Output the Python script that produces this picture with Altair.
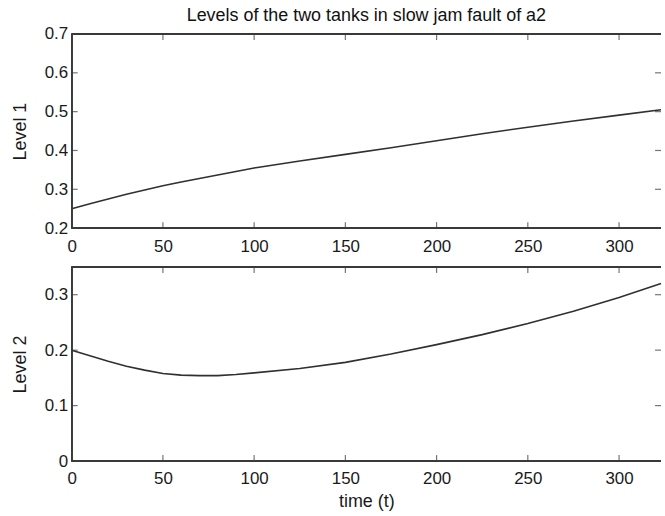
import altair as alt
import pandas as pd

t_vals = [0, 10, 20, 30, 40, 50, 60, 70, 80, 90, 100, 125, 150, 175, 200, 225, 250, 275, 300, 323]
level1 = [0.250, 0.263, 0.275, 0.287, 0.298, 0.309, 0.319, 0.328, 0.337, 0.346, 0.355,
          0.373, 0.390, 0.407, 0.425, 0.443, 0.460, 0.476, 0.491, 0.505]
level2 = [0.200, 0.190, 0.180, 0.171, 0.164, 0.158, 0.155, 0.154, 0.154, 0.156, 0.159,
          0.167, 0.178, 0.193, 0.210, 0.228, 0.248, 0.270, 0.295, 0.320]
x_ticks = [0, 50, 100, 150, 200, 250, 300]
y1_ticks = [0.2, 0.3, 0.4, 0.5, 0.6, 0.7]
y2_ticks = [0, 0.1, 0.2, 0.3]

W, H = 592, 195
FRAME = "#3a3a3a"
LINE = "#303030"
FONT = "Liberation Sans"

xscale = alt.Scale(domain=[0, 323], nice=False, zero=False)


def panel(values, ydomain, yticks, ytitle, xtitle=None, title=None):
    df = pd.DataFrame({"t": t_vals, "v": values})
    yscale = alt.Scale(domain=ydomain, nice=False, zero=False)
    xaxis = alt.Axis(values=x_ticks, labelPadding=10, title=xtitle, labelFlush=False,
                     labelOverlap=False, labelFontSize=17,
                     titlePadding=6, titleFontSize=18, titleFontWeight="normal")
    yaxis = alt.Axis(values=yticks, labelPadding=4, title=ytitle, titlePadding=12,
                     labelFlush=False, labelOverlap=False, labelFontSize=17,
                     minExtent=30, maxExtent=30, labelExpr="format(datum.value, '.1~f')",
                     titleFontSize=18, titleFontWeight="normal")
    X = alt.X("t:Q", scale=xscale, axis=xaxis)
    Y = alt.Y("v:Q", scale=yscale, axis=yaxis)
    line = alt.Chart(df).mark_line(color=LINE, strokeWidth=1.6).encode(x=X, y=Y)
    xt = pd.DataFrame({"t": x_ticks})
    yt = pd.DataFrame({"v": yticks})
    tb = alt.Chart(xt).mark_tick(size=6, thickness=1.2, color=FRAME).encode(
        x=X, y=alt.value(H - 3))
    tt = alt.Chart(xt).mark_tick(size=6, thickness=1.2, color=FRAME).encode(
        x=X, y=alt.value(3))
    tl = alt.Chart(yt).mark_tick(size=6, thickness=1.2, color=FRAME).encode(
        y=Y, x=alt.value(3))
    tr = alt.Chart(yt).mark_tick(size=6, thickness=1.2, color=FRAME).encode(
        y=Y, x=alt.value(W - 3))
    fl = alt.Chart(xt).mark_rule(color=FRAME, strokeWidth=1.4).encode(
        x=alt.value(0), y=alt.value(0), y2=alt.value(H))
    ft = alt.Chart(xt).mark_rule(color=FRAME, strokeWidth=1.4).encode(
        x=alt.value(0), x2=alt.value(W), y=alt.value(0))
    fb = alt.Chart(xt).mark_rule(color=FRAME, strokeWidth=1.4).encode(
        x=alt.value(0), x2=alt.value(W), y=alt.value(H))
    props = dict(width=W, height=H)
    if title:
        props["title"] = alt.TitleParams(title, fontSize=18, fontWeight="normal", font=FONT,
                                         frame="group", anchor="middle", offset=0, color="#111")
    return alt.layer(line, tb, tt, tl, tr, fl, ft, fb).properties(**props)


top = panel(level1, [0.2, 0.7], y1_ticks, "Level 1",
            title="Levels of the two tanks in slow jam fault of a2")
bottom = panel(level2, [0, 0.35], y2_ticks, "Level 2", xtitle="time (t)")

chart = alt.vconcat(top, bottom, spacing=12).properties(
    padding={"left": 12, "top": 6, "right": 0, "bottom": 0},
    background="white"
).configure_view(stroke=None).configure_axis(
    domain=False, ticks=False, grid=False, labelFont=FONT, titleFont=FONT,
    labelFontSize=17, labelColor="#1a1a1a", titleColor="#1a1a1a"
)

chart.save("out.html", embed_options={"renderer": "svg", "actions": False})
